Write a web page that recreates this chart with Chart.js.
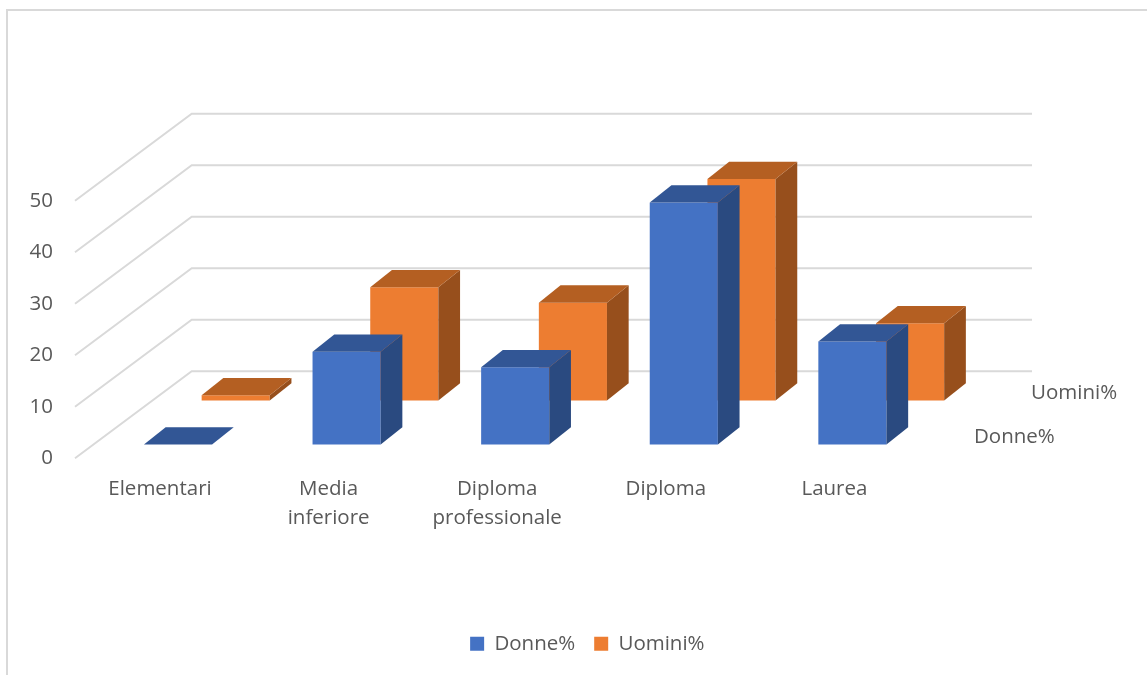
<!DOCTYPE html>
<html lang="it">
<head>
    <meta charset="UTF-8">
    <title>Donne% e Uomini% per titolo di studio</title>
    <script src="https://cdn.jsdelivr.net/npm/chart.js"></script>
    <style>
        body { margin: 0; background: #fff; }
        canvas { display: block; }
    </style>
</head>
<body>
    <canvas id="chart" width="1147" height="675"></canvas>
    <script>
        // Data
        const categories = ['Elementari', ['Media', 'inferiore'], ['Diploma', 'professionale'], 'Diploma', 'Laurea'];
        const seriesNames = ['Donne%', 'Uomini%'];
        const donne = [0, 18, 15, 47, 20];
        const uomini = [1, 22, 19, 43, 15];

        const textColor = '#595959';
        const gridColor = '#D9D9D9';
        const fontFamily = '"Open Sans", sans-serif';
        const fontSize = 20.5;

        // Fake 3D: bar depth, and how far the back row sits from the front row
        const depth = { x: 21.7, y: -17.3 };
        const rowShift = [{ x: 0, y: 0 }, { x: 57.7, y: -44 }];
        const sideColors = ['#2A4A80', '#974F1C'];
        const topColors = ['#325695', '#B45F22'];

        function polygon(ctx, points, color) {
            ctx.fillStyle = color;
            ctx.beginPath();
            points.forEach((p, i) => i ? ctx.lineTo(p[0], p[1]) : ctx.moveTo(p[0], p[1]));
            ctx.closePath();
            ctx.fill();
        }

        const fake3d = {
            id: 'fake3d',
            afterLayout(chart) {
                // Legend is centred on the whole object, not on the plot area
                chart.legend.left += 119;
                chart.legend.right += 119;
            },
            beforeDraw(chart) {
                // Frame of the chart object
                const ctx = chart.ctx;
                ctx.save();
                ctx.strokeStyle = gridColor;
                ctx.lineWidth = 2;
                ctx.beginPath();
                ctx.moveTo(7, chart.height);
                ctx.lineTo(7, 10);
                ctx.lineTo(chart.width, 10);
                ctx.stroke();
                ctx.restore();
            },
            beforeDatasetsDraw(chart) {
                // Back wall and side wall gridlines
                const ctx = chart.ctx;
                const y = chart.scales.y;
                ctx.save();
                ctx.strokeStyle = gridColor;
                ctx.lineWidth = 2;
                y.ticks.forEach(t => {
                    const py = y.getPixelForValue(t.value);
                    ctx.beginPath();
                    ctx.moveTo(75, py + 13.7);
                    ctx.lineTo(191.7, py - 73.3);
                    ctx.lineTo(1032, py - 73.3);
                    ctx.stroke();
                });
                ctx.restore();
            },
            beforeDatasetDraw(chart, args) {
                const s = rowShift[args.index];
                chart.ctx.save();
                chart.ctx.translate(s.x, s.y);
            },
            afterDatasetDraw(chart, args) {
                const ctx = chart.ctx;
                args.meta.data.forEach(bar => {
                    const l = bar.x - bar.width / 2;
                    const r = bar.x + bar.width / 2;
                    polygon(ctx, [[r, bar.y], [r + depth.x, bar.y + depth.y], [r + depth.x, bar.base + depth.y], [r, bar.base]], sideColors[args.index]);
                    polygon(ctx, [[l, bar.y], [l + depth.x, bar.y + depth.y], [r + depth.x, bar.y + depth.y], [r, bar.y]], topColors[args.index]);
                });
                ctx.restore();
            },
            afterDatasetsDraw(chart) {
                // Labels of the depth axis
                const ctx = chart.ctx;
                ctx.save();
                ctx.fillStyle = textColor;
                ctx.font = fontSize + 'px ' + fontFamily;
                ctx.textBaseline = 'middle';
                ctx.fillText(seriesNames[1], 1031, 393);
                ctx.fillText(seriesNames[0], 974, 437);
                ctx.restore();
            }
        };

        new Chart(document.getElementById('chart'), {
            type: 'bar',
            plugins: [fake3d],
            data: {
                labels: categories,
                datasets: [
                    { label: seriesNames[0], data: donne, backgroundColor: '#4472C4', grouped: false, clip: false, barPercentage: 0.404, categoryPercentage: 1 },
                    { label: seriesNames[1], data: uomini, backgroundColor: '#ED7D31', grouped: false, clip: false, barPercentage: 0.404, categoryPercentage: 1 }
                ]
            },
            options: {
                responsive: false,
                animation: false,
                layout: { padding: { top: 187, right: 210.3, bottom: 11, left: 0 } },
                scales: {
                    x: {
                        grid: { display: false, drawTicks: false },
                        border: { display: false },
                        afterFit: scale => { scale.height = 170; },
                        ticks: {
                            color: textColor,
                            font: { family: fontFamily, size: fontSize, lineHeight: 1.42 },
                            autoSkip: false,
                            maxRotation: 0,
                            padding: 30,
                            labelOffset: -18
                        }
                    },
                    y: {
                        min: 0,
                        max: 50,
                        grid: { display: false, drawTicks: false },
                        border: { display: false },
                        afterFit: scale => { scale.width = 93.7; },
                        ticks: {
                            color: textColor,
                            font: { family: fontFamily, size: fontSize },
                            stepSize: 10,
                            padding: 40.7,
                            labelOffset: 13.7
                        }
                    }
                },
                plugins: {
                    tooltip: { enabled: false },
                    legend: {
                        position: 'bottom',
                        labels: {
                            color: textColor,
                            font: { family: fontFamily, size: fontSize },
                            boxWidth: 14,
                            boxHeight: 14,
                            padding: 19
                        }
                    }
                }
            }
        });
    </script>
</body>
</html>
